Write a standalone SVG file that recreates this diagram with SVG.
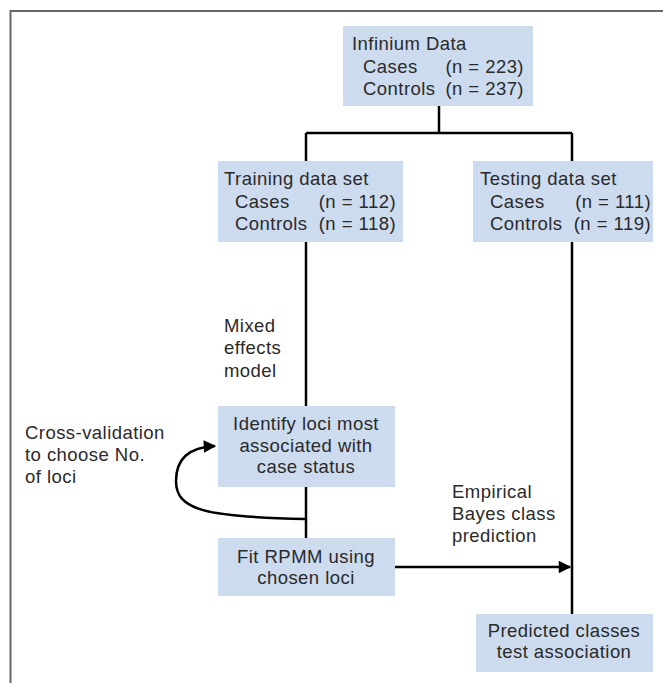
<svg xmlns="http://www.w3.org/2000/svg" width="663" height="683" viewBox="0 0 663 683">
<defs>
<style>
.box{fill:#ccdbee;}
.t{font-family:"Liberation Sans",Arial,sans-serif;font-size:18.5px;fill:#2a2a2a;letter-spacing:0.45px;}
.c{text-anchor:middle;}
.e{text-anchor:end;}
.ln{stroke:#000;stroke-width:2.5;fill:none;}
</style>
<marker id="ah" viewBox="0 0 10 10" refX="9" refY="5" markerWidth="5.5" markerHeight="5" orient="auto" markerUnits="strokeWidth">
<path d="M0,0 L10,5 L0,10 z" fill="#000"/>
</marker>
</defs>
<rect width="663" height="683" fill="#fff"/>
<path d="M10.5,683 V11 H663" fill="none" stroke="#666" stroke-width="2"/>
<g id="connectors">
<path class="ln" d="M439,106 V133"/>
<path class="ln" d="M306,133 H572"/>
<path class="ln" d="M306,133 V161"/>
<path class="ln" d="M572,133 V161"/>
<path class="ln" d="M306,242 V406"/>
<path class="ln" d="M306,487 V538"/>
<path class="ln" d="M572,242 V614"/>
<path class="ln" d="M395,567 H570" marker-end="url(#ah)"/>
<path class="ln" d="M306,519 C205,517 176,510 176,481 C176,456 193,447 215,446" marker-end="url(#ah)"/>
</g>
<g id="infinium">
<rect class="box" x="343" y="26" width="190" height="80"/>
<text class="t" x="352" y="50">Infinium Data</text>
<text class="t" x="363" y="73">Cases</text>
<text class="t e" x="524" y="73">(n = 223)</text>
<text class="t" x="363" y="95">Controls</text>
<text class="t e" x="524" y="95">(n = 237)</text>
</g>
<g id="training">
<rect class="box" x="218" y="161" width="185" height="81"/>
<text class="t" x="224" y="185">Training data set</text>
<text class="t" x="235" y="208">Cases</text>
<text class="t e" x="396" y="208">(n = 112)</text>
<text class="t" x="235" y="230">Controls</text>
<text class="t e" x="396" y="230">(n = 118)</text>
</g>
<g id="testing">
<rect class="box" x="473" y="161" width="180" height="81"/>
<text class="t" x="480" y="185">Testing data set</text>
<text class="t" x="490" y="208">Cases</text>
<text class="t e" x="651" y="208">(n = 111)</text>
<text class="t" x="490" y="230">Controls</text>
<text class="t e" x="651" y="230">(n = 119)</text>
</g>
<g id="mixed">
<text class="t" x="224" y="332">Mixed</text>
<text class="t" x="224" y="354">effects</text>
<text class="t" x="224" y="377">model</text>
</g>
<g id="identify">
<rect class="box" x="218" y="406" width="177" height="81"/>
<text class="t c" x="306" y="430">Identify loci most</text>
<text class="t c" x="306" y="452">associated with</text>
<text class="t c" x="306" y="473">case status</text>
</g>
<g id="crossval">
<text class="t" x="25" y="439">Cross-validation</text>
<text class="t" x="25" y="461">to choose No.</text>
<text class="t" x="25" y="483">of loci</text>
</g>
<g id="fit">
<rect class="box" x="218" y="538" width="177" height="58"/>
<text class="t c" x="306" y="563">Fit RPMM using</text>
<text class="t c" x="306" y="584">chosen loci</text>
</g>
<g id="empirical">
<text class="t" x="452" y="498">Empirical</text>
<text class="t" x="452" y="520">Bayes class</text>
<text class="t" x="452" y="542">prediction</text>
</g>
<g id="predicted">
<rect class="box" x="476" y="614" width="177" height="58"/>
<text class="t c" x="564" y="637">Predicted classes</text>
<text class="t c" x="564" y="658">test association</text>
</g>
</svg>
